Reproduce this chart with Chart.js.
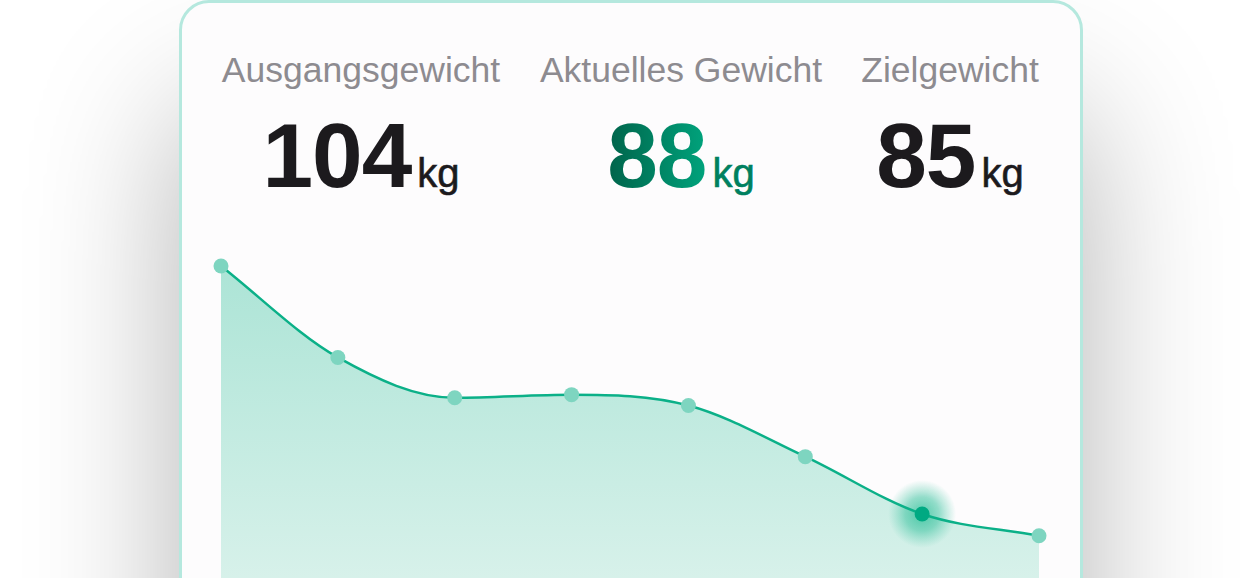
<!DOCTYPE html>
<html>
<head>
<meta charset="utf-8">
<script src="https://cdn.jsdelivr.net/npm/chart.js@4"></script>
<style>
  html, body { margin: 0; padding: 0; }
  body { width: 1260px; height: 578px; overflow: hidden; background: #fff; position: relative; font-family: "Liberation Sans", Arial, sans-serif; }
  .card { position: absolute; left: 179px; top: 0; width: 898px; height: 900px; border: 3px solid #b5e8de; border-radius: 30px; background: #fdfcfd; box-shadow: 0 110px 150px rgba(0, 0, 0, 0.3); }
  .stat { position: absolute; width: 400px; text-align: center; }
  .label { position: absolute; left: 0; width: 400px; top: 53px; font-size: 35.5px; line-height: 1; color: #8d8b90; }
  .value { position: absolute; left: 0; width: 400px; top: 110px; font-size: 91px; line-height: 1; font-weight: 700; color: #1c1a1d; letter-spacing: -1px; white-space: nowrap; }
  .value .unit { font-size: 40px; font-weight: 400; margin-left: 6px; letter-spacing: 0; -webkit-text-stroke: 0.6px currentColor; }
  .green .num { background: linear-gradient(to right, #00634a, #00a37c); -webkit-background-clip: text; background-clip: text; color: transparent; }
  .green .unit { color: #00805f; }
  #wrap { position: absolute; left: 180px; top: 230px; width: 900px; height: 348px; }
</style>
</head>
<body>
<div class="card"></div>
<div id="stats"></div>
<div id="wrap"><canvas id="myChart"></canvas></div>
<script>
const statLabels = ["Ausgangsgewicht", "Aktuelles Gewicht", "Zielgewicht"];
const statValues = [104, 88, 85];
const statCenters = [361, 681, 950];

const weeks = ["1", "2", "3", "4", "5", "6", "7", "8"];
const weights = [104, 98.1, 95.5, 95.7, 95.0, 91.7, 88, 86.6];
const currentIndex = 6;

const stats = document.getElementById("stats");
for (let i = 0; i < statLabels.length; i++) {
  const div = document.createElement("div");
  div.className = "stat" + (i == 1 ? " green" : "");
  div.style.left = (statCenters[i] - 200) + "px";
  div.innerHTML = '<div class="label">' + statLabels[i] + '</div>' +
    '<div class="value"><span class="num">' + statValues[i] + '</span><span class="unit">kg</span></div>';
  stats.appendChild(div);
}

// soft halo behind the current weight point
const glowPlugin = {
  id: "glow",
  beforeDatasetDraw(chart) {
    const pt = chart.getDatasetMeta(0).data[currentIndex];
    if (!pt) return;
    const ctx = chart.ctx;
    const g = ctx.createRadialGradient(pt.x, pt.y, 0, pt.x, pt.y, 34);
    g.addColorStop(0, "rgba(40, 190, 150, 0.8)");
    g.addColorStop(0.5, "rgba(60, 195, 160, 0.55)");
    g.addColorStop(1, "rgba(90, 205, 175, 0)");
    ctx.save();
    ctx.fillStyle = g;
    ctx.beginPath();
    ctx.arc(pt.x, pt.y, 34, 0, Math.PI * 2);
    ctx.fill();
    ctx.restore();
  },
};

const ctx = document.getElementById("myChart").getContext("2d");
const myChart = new Chart(ctx, {
  type: "line",
  data: {
    labels: weeks,
    datasets: [
      {
        data: weights,
        borderColor: "#0bb088",
        borderWidth: 2.5,
        cubicInterpolationMode: "monotone",
        fill: "start",
        clip: false,
        backgroundColor: function (context) {
          const area = context.chart.chartArea;
          if (!area) return "#b0e5d8";
          const grad = context.chart.ctx.createLinearGradient(0, area.top, 0, area.bottom);
          grad.addColorStop(0, "#ace4d6");
          grad.addColorStop(1, "#d7f1ea");
          return grad;
        },
        pointRadius: 7.5,
        pointHoverRadius: 7.5,
        pointBorderWidth: 0,
        pointBackgroundColor: weights.map((w, i) => (i == currentIndex ? "#00a982" : "#7ed5c0")),
      },
    ],
  },
  options: {
    responsive: true,
    maintainAspectRatio: false,
    animation: false,
    events: [],
    layout: { autoPadding: false, padding: { left: 41, right: 41, top: 36, bottom: 0 } },
    scales: {
      x: { display: false },
      y: { display: false, min: 83.87, max: 104 },
    },
    plugins: {
      legend: { display: false },
      tooltip: { enabled: false },
      filler: { drawTime: "beforeDatasetsDraw" },
    },
  },
  plugins: [glowPlugin],
});
</script>
</body>
</html>
